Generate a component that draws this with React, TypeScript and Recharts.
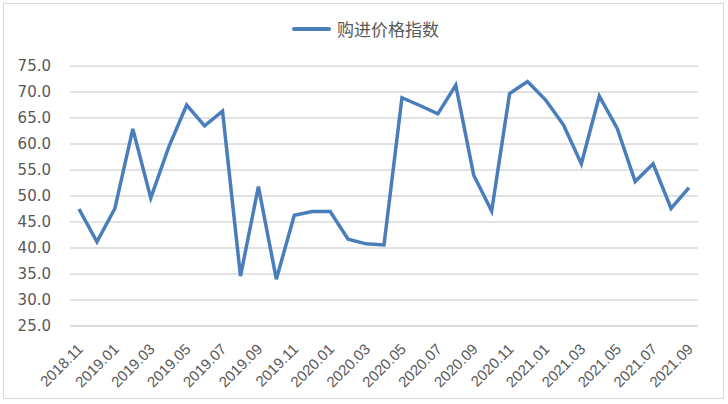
import React from 'react';
import { LineChart, Line, XAxis, YAxis, CartesianGrid } from 'recharts';

const months = [
    '2018.11', '2018.12', '2019.01', '2019.02', '2019.03', '2019.04', '2019.05', '2019.06', '2019.07',
    '2019.08', '2019.09', '2019.10', '2019.11', '2019.12', '2020.01', '2020.02', '2020.03', '2020.04',
    '2020.05', '2020.06', '2020.07', '2020.08', '2020.09', '2020.10', '2020.11', '2020.12', '2021.01',
    '2021.02', '2021.03', '2021.04', '2021.05', '2021.06', '2021.07', '2021.08', '2021.09'
];

const purchasePriceIndex = [
    47.5, 41.2, 47.6, 62.9, 49.6, 59.4, 67.5, 63.5, 66.3,
    34.6, 51.8, 34.0, 46.3, 47.0, 47.0, 41.7, 40.8, 40.6,
    68.9, 67.4, 65.8, 71.3, 54.0, 47.1, 69.7, 72.0, 68.5,
    63.7, 56.2, 69.2, 63.0, 52.8, 56.2, 47.6, 51.6
];

const yTicks = [25, 30, 35, 40, 45, 50, 55, 60, 65, 70, 75];

const seriesName = '购进价格指数';

const data = months.map((m, i) => ({ month: m, value: purchasePriceIndex[i] }));

const TEXT = '#595959';
const LINE = '#4a7ebb';

const MonthTick = ({ x, y, payload }: any) => (
    <text
        x={x + 5}
        y={y + 16}
        transform={`rotate(-45, ${x + 5}, ${y + 16})`}
        textAnchor="end"
        fill={TEXT}
        fontSize={15}
        fontFamily="Liberation Sans, sans-serif"
    >
        {payload.value}
    </text>
);

export default function App() {
    return (
        <div style={{
            position: 'absolute',
            left: 0,
            top: 0,
            width: 728,
            height: 404,
            background: '#fff'
        }}>
            <div style={{
                position: 'absolute',
                left: 3,
                top: 3,
                width: 719,
                height: 394,
                border: '1px solid #d9d9d9'
            }} />
            {/* legend */}
            <div style={{
                position: 'absolute',
                left: 292,
                top: 16,
                display: 'flex',
                alignItems: 'center',
                fontFamily: '"Noto Sans CJK SC", sans-serif',
                fontSize: 17,
                color: TEXT
            }}>
                <span style={{ display: 'inline-block', width: 39, height: 4, background: LINE, borderRadius: 2, marginRight: 6 }} />
                <span>{seriesName}</span>
            </div>
            <LineChart
                width={728}
                height={404}
                data={data}
                margin={{ top: 66, right: 30, left: 0, bottom: 6 }}
                style={{ position: 'absolute', left: 0, top: 0 }}
            >
                <CartesianGrid vertical={false} stroke="#d9d9d9" strokeWidth={1.3} />
                <XAxis
                    dataKey="month"
                    interval={1}
                    height={72}
                    axisLine={{ stroke: '#d9d9d9', strokeWidth: 1.3 }}
                    tickLine={false}
                    padding={{ left: 9, right: 9 }}
                    tick={<MonthTick />}
                />
                <YAxis
                    width={70}
                    domain={[25, 75]}
                    ticks={yTicks}
                    interval={0}
                    axisLine={false}
                    tickLine={false}
                    tickMargin={13}
                    tickFormatter={(v: number) => v.toFixed(1)}
                    tick={{ fill: TEXT, fontSize: 15, fontFamily: 'DejaVu Sans, sans-serif' }}
                />
                <Line
                    type="linear"
                    dataKey="value"
                    name={seriesName}
                    stroke={LINE}
                    strokeWidth={3.5}
                    dot={false}
                    isAnimationActive={false}
                />
            </LineChart>
        </div>
    );
}
